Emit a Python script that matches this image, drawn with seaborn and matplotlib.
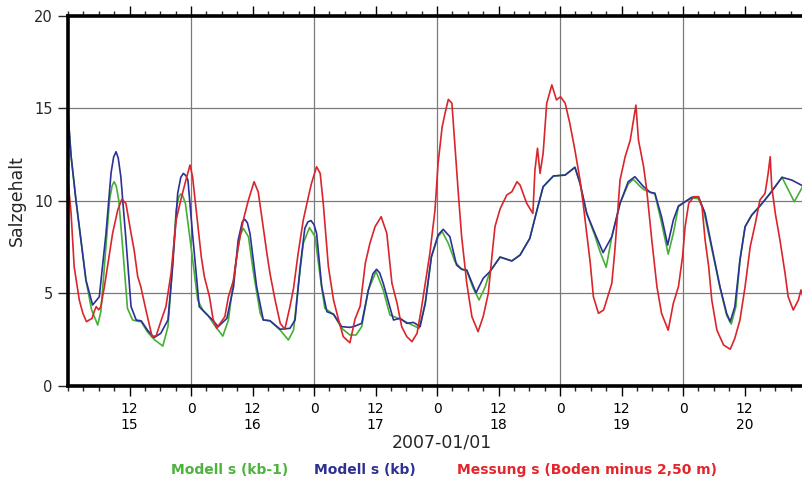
import numpy as np
import pandas as pd
import matplotlib
matplotlib.use("Agg")
import matplotlib.pyplot as plt
import seaborn as sns
from matplotlib.ticker import FixedLocator, MultipleLocator

# ---------------- data (hours since 2007-01-15 00:00) ----------------
blue_t = [0, 0.6, 1.56, 3.5, 4.8, 6.1, 7.4, 8.4, 8.9, 9.37, 9.8, 10.3, 11.3, 12.3, 13.3, 14.3, 15.5, 16.8,
          18.1, 19.5, 20.4, 21.4, 22.0, 22.5, 23.0, 23.4, 24.3, 25.6, 26.9, 28.2, 29.3, 31.0, 32.3, 33.2,
          34.0, 34.5, 35.0, 35.5, 36.8, 38.1, 39.4, 41.4, 43.3, 44.3, 45.3, 46.2, 46.8, 47.4, 48.0, 48.5,
          49.5, 50.5, 51.8, 53.4, 55.0, 56.0, 57.3, 58.6, 59.5, 60.2, 60.8, 61.5, 63.5, 64.8, 66.1, 67.4,
          68.7, 69.7, 70.9, 72.2, 73.2, 74.5, 75.8, 76.8, 77.8, 79.6, 81.0, 82.3, 84.3, 86.6, 88.2, 90.1,
          91.5, 92.7, 94.7, 97.0, 98.9, 99.9, 101.2, 102.8, 104.4, 106.1, 107.7, 109.3, 110.6,
          112.3, 113.6, 114.5, 115.8, 117.0, 118.1, 119.1, 120.4, 121.7, 123.0, 124.3, 125.6,
          127.2, 128.5, 129.2, 130.1, 131.1, 132.1, 133.4, 135.0, 137.0, 139.3, 141.2, 143.4]
blue_v = [14.7, 12.4, 10.0, 5.7, 4.36, 4.8, 8.2, 11.5, 12.35, 12.64, 12.3, 11.3, 7.9, 4.27, 3.55, 3.5, 3.0, 2.6,
          2.83, 3.55, 6.4, 10.4, 11.25, 11.47, 11.35, 11.1, 8.2, 4.27, 3.9, 3.55, 3.19, 3.64, 5.35, 7.87,
          8.85, 8.99, 8.8, 8.23, 5.35, 3.55, 3.51, 3.05, 3.1, 3.55, 6.43, 8.5, 8.85, 8.92, 8.7, 8.23,
          5.35, 4.0, 3.86, 3.19, 3.15, 3.22, 3.37, 5.17, 6.05, 6.29, 6.1, 5.53, 3.55, 3.64, 3.37, 3.42,
          3.19, 4.45, 6.97, 8.14, 8.45, 8.05, 6.52, 6.29, 6.25, 5.02, 5.8, 6.16, 6.95, 6.74, 7.06, 7.96,
          9.49, 10.75, 11.33, 11.38, 11.8, 10.93, 9.31, 8.23, 7.19, 8.05, 9.85, 11.02, 11.29,
          10.75, 10.45, 10.4, 9.13, 7.6, 8.95, 9.71, 9.94, 10.18, 10.21, 9.31, 7.51,
          5.35, 3.91, 3.46, 4.27, 6.79, 8.59, 9.22, 9.71, 10.39, 11.26, 11.11, 10.79]

green_t = [0, 0.6, 1.56, 3.5, 4.6, 5.8, 6.4, 7.1, 8.1, 8.6, 9.0, 9.4, 9.9, 10.7, 11.6, 12.6, 13.3, 14.3,
           15.5, 16.8, 18.5, 19.5, 20.1, 21.1, 21.6, 22.0, 22.4, 22.9, 24.0, 25.3, 26.3, 27.3, 28.5, 30.2,
           31.3, 32.6, 33.6, 34.2, 35.2, 36.2, 37.5, 38.1, 39.4, 41.4, 43.0, 44.0, 44.9, 45.9,
           47.1, 48.2, 49.2, 50.1, 51.8, 53.4, 55.0, 56.2, 57.3, 58.6, 60.1, 61.5, 62.8, 64.8,
           67.0, 68.5, 69.7, 70.9, 72.2, 73.0, 74.2, 75.5, 76.8, 77.8, 79.0, 80.2, 81.4, 82.3,
           84.3, 86.6, 88.2, 90.1, 91.5, 92.7, 94.7, 97.0, 98.9, 99.9, 101.2, 102.8, 103.8,
           105.0, 106.1, 107.7, 109.3, 110.3, 111.5, 112.3, 113.6, 114.5, 115.8, 117.1, 118.1,
           119.1, 120.4, 121.7, 123.0, 124.0, 125.6, 127.2, 128.5, 129.4, 130.3, 131.1, 132.1,
           133.4, 135.0, 137.0, 139.3, 140.5, 141.7, 143.4]
green_v = [14.7, 12.4, 10.0, 5.7, 4.1, 3.28, 4.0, 6.43, 10.03, 10.8, 11.02, 10.8, 10.03, 7.33, 4.18, 3.55, 3.5, 3.45,
           2.9, 2.5, 2.14, 3.19, 5.35, 9.49, 10.2, 10.36, 10.25, 9.85, 7.51, 4.63, 4.09, 3.8, 3.3, 2.68,
           3.55, 6.43, 8.14, 8.5, 8.05, 6.07, 3.91, 3.55, 3.51, 3.0, 2.47, 3.0, 5.35, 7.69,
           8.54, 8.05, 5.89, 4.18, 3.86, 3.1, 2.74, 2.74, 3.19, 5.17, 6.17, 5.17, 3.82, 3.6,
           3.3, 3.1, 4.45, 6.97, 8.05, 8.33, 7.69, 6.7, 6.29, 6.2, 5.3, 4.63, 5.35, 6.16,
           6.95, 6.74, 7.06, 7.96, 9.49, 10.75, 11.33, 11.38, 11.8, 10.93, 9.31, 8.1, 7.24,
           6.4, 8.05, 9.85, 10.9, 11.15, 10.8, 10.6, 10.45, 10.36, 8.8, 7.11, 8.23,
           9.67, 9.94, 10.15, 10.1, 9.49, 7.4, 5.3, 3.8, 3.33, 4.27, 6.79, 8.59,
           9.22, 9.71, 10.39, 11.26, 10.6, 9.94, 10.79]

red_t = [0, 0.6, 1.2, 2.2, 2.9, 3.6, 4.7, 5.1, 5.5, 6.0, 6.4, 7.1, 7.7, 8.7, 9.7, 10.5, 11.3, 12.3,
         12.9, 13.6, 14.2, 15.2, 16.4, 17.2, 18.2, 19.1, 20.1, 21.1, 22.0, 23.0, 23.8, 24.3, 25.0,
         26.0, 26.6, 27.6, 28.3, 29.0, 30.6, 31.3, 32.3, 33.2, 34.2, 35.2, 35.8, 36.3, 37.1, 37.8,
         38.8, 39.4, 40.4, 41.4, 42.3, 43.3, 44.0, 44.9, 45.9, 46.9, 47.5, 48.5, 49.2, 49.8, 50.8,
         51.8, 52.8, 53.7, 55.0, 56.0, 57.0, 58.0, 58.9, 59.9, 61.1, 62.2, 63.2, 64.2, 65.1, 66.1,
         67.1, 68.1, 68.9, 69.7, 70.6, 71.6, 72.2, 73.0, 73.7, 74.2, 74.9, 75.5, 76.2, 76.8, 77.8,
         78.8, 80.0, 81.0, 82.0, 82.7, 83.3, 84.3, 85.6, 86.6, 87.6, 88.2, 89.5, 90.7, 91.1, 91.6,
         92.1, 92.7, 93.4, 94.4, 95.3, 96.1, 97.0, 97.9, 98.9, 99.9, 100.5, 101.2, 101.9, 102.5,
         103.5, 104.5, 105.1, 106.1, 106.7, 107.7, 108.7, 109.7, 110.8, 111.3, 112.3, 112.9, 113.9,
         114.9, 115.8, 117.1, 118.1, 119.1, 119.9, 120.4, 121.1, 122.1, 123.0, 123.7, 124.3, 125.0,
         125.6, 126.6, 127.9, 129.2, 130.1, 131.1, 132.1, 133.1, 134.1, 135.0, 136.0, 136.6, 137.0,
         137.3, 138.0, 138.9, 139.9, 140.5, 141.5, 142.5, 143.0, 143.4]
red_v = [11.1, 9.31, 6.43, 4.63, 3.91, 3.46, 3.64, 4.0, 4.27, 4.1, 4.27, 5.35, 6.43, 8.23, 9.49, 10.07, 9.85, 8.23,
         7.33, 5.89, 5.35, 4.09, 2.65, 2.7, 3.55, 4.27, 6.07, 8.95, 10.03, 11.11, 11.92, 11.29, 9.49,
         6.97, 5.89, 4.81, 3.6, 3.1, 3.73, 4.81, 5.71, 7.51, 8.95, 10.03, 10.57, 11.02, 10.48, 9.13,
         7.15, 6.07, 4.63, 3.37, 3.05, 4.27, 5.26, 7.15, 8.95, 10.21, 10.93, 11.83, 11.47, 9.85, 6.43,
         4.63, 3.55, 2.65, 2.32, 3.6, 4.3, 6.61, 7.69, 8.59, 9.13, 8.23, 5.53, 4.45, 3.19, 2.65,
         2.38, 2.83, 4.09, 5.53, 7.15, 9.49, 12.01, 13.99, 14.89, 15.47, 15.26, 12.91, 10.21, 8.05, 5.53,
         3.73, 2.92, 3.73, 4.99, 6.97, 8.59, 9.55, 10.3, 10.48, 11.02, 10.84, 9.85, 9.31, 11.65, 12.83,
         11.47, 12.56, 15.26, 16.25, 15.44, 15.61, 15.26, 14.18, 12.73, 11.11, 9.85, 8.23, 6.61, 4.81,
         3.91, 4.09, 4.63, 5.53, 7.33, 11.11, 12.37, 13.27, 15.16, 13.27, 11.83, 10.6, 7.87,
         5.35, 3.91, 3.0, 4.45, 5.35, 6.97, 8.59, 9.85, 10.21, 10.21, 9.67, 7.87, 6.43,
         4.63, 3.0, 2.2, 1.97, 2.56, 3.55, 5.35, 7.51, 8.77, 10.03, 10.39, 11.47, 12.37,
         10.75, 9.31, 7.87, 6.07, 4.81, 4.09, 4.63, 5.17, 4.8]

series_names = ["Modell s (kb-1)", "Modell s (kb)", "Messung s (Boden minus 2,50 m)"]
line_colors = ["#45b035", "#2b3196", "#d9252b"]
legend_colors = ["#4db33d", "#2e3192", "#e3262b"]

tick_hours = [12, 24, 36, 48, 60, 72, 84, 96, 108, 120, 132]
tick_labels = ["12\n15", "0", "12\n16", "0", "12\n17", "0", "12\n18", "0", "12\n19", "0", "12\n20"]
y_ticks = [0, 5, 10, 15, 20]
x_title = "2007-01/01"
y_title = "Salzgehalt"

# ---------------- figure ----------------
sns.set_style("white")
plt.rcParams["font.family"] = ["Liberation Sans Narrow", "DejaVu Sans"]

fig = plt.figure(figsize=(8.03, 4.82), dpi=100)
ax = fig.add_axes([0.0847, 0.1998, 0.9153, 0.768])

frames = [
    pd.DataFrame({"t": green_t, "v": green_v}),
    pd.DataFrame({"t": blue_t, "v": blue_v}),
    pd.DataFrame({"t": red_t, "v": red_v}),
]
for df, col in zip(frames, line_colors):
    sns.lineplot(data=df, x="t", y="v", ax=ax, color=col, linewidth=1.2,
                 estimator=None, sort=False, legend=False)

ax.set_xlim(0, 143.4)
ax.set_ylim(0, 20)

# grid: horizontal at inner y ticks, vertical at midnights
for y in y_ticks[1:-1]:
    ax.axhline(y, color="#7a7a7a", lw=0.9, zorder=0)
for h, lab in zip(tick_hours, tick_labels):
    if lab == "0":
        ax.axvline(h, color="#7a7a7a", lw=0.9, zorder=0)

ax.xaxis.set_major_locator(FixedLocator(tick_hours))
ax.set_xticklabels(tick_labels, fontsize=10, linespacing=1.15)
ax.xaxis.set_minor_locator(MultipleLocator(3))
ax.yaxis.set_major_locator(FixedLocator(y_ticks))
ax.set_yticklabels([str(v) for v in y_ticks], fontsize=10.5)

ax.tick_params(axis="x", which="major", direction="out", length=7, width=1, top=True,
               bottom=True, pad=5, colors="black")
ax.tick_params(axis="x", which="minor", direction="out", length=3.5, width=1, top=True,
               bottom=True)
ax.tick_params(axis="y", which="major", direction="out", length=7, width=1, left=True,
               right=False, pad=4)

for side in ["left", "top", "bottom"]:
    ax.spines[side].set_visible(True)
    ax.spines[side].set_linewidth(2.6)
    ax.spines[side].set_color("black")
ax.spines["right"].set_visible(False)

ax.set_xlabel(x_title, fontsize=12.5)
ax.xaxis.set_label_coords(0.509, -0.128)
ax.set_ylabel(y_title, fontsize=12.5)
ax.yaxis.set_label_coords(-0.057, 0.5)

# legend: coloured text only
legend_x = [230 / 803, 365 / 803, 587 / 803]
for name, col, xp in zip(series_names, legend_colors, legend_x):
    fig.text(xp, 1 - 470 / 482, name, color=col, fontsize=10, fontweight="bold",
             ha="center", va="center")

fig.savefig("out.png", dpi=100)
